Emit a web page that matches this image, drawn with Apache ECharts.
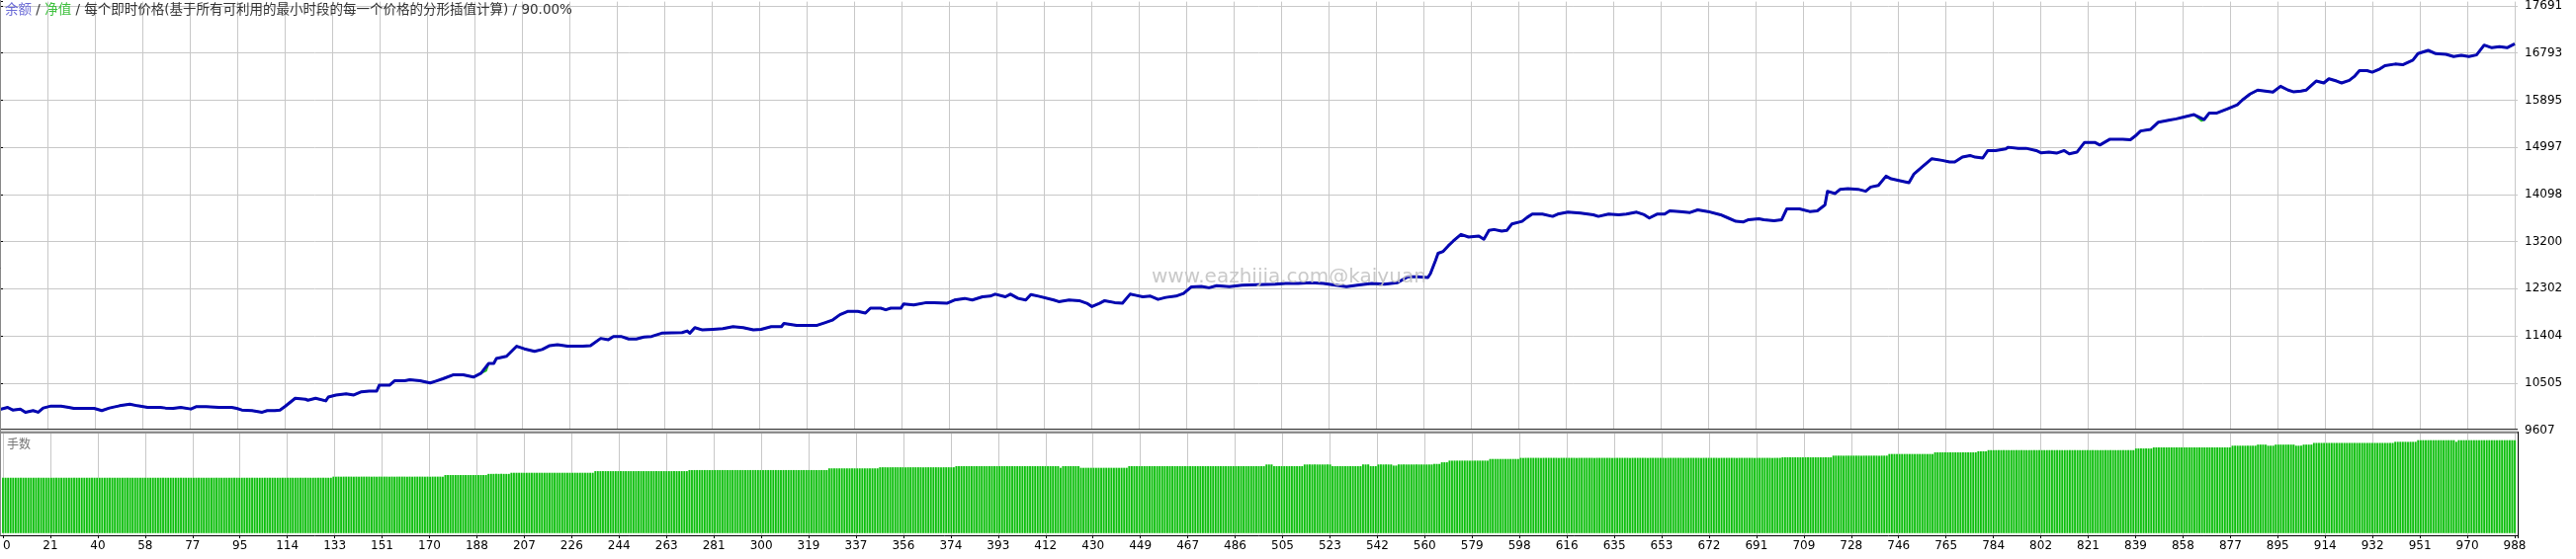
<!DOCTYPE html>
<html><head><meta charset="utf-8">
<script src="https://cdn.jsdelivr.net/npm/echarts@6/dist/echarts.min.js"></script>
<style>html,body{margin:0;padding:0;background:#fff}#c{width:2606px;height:566px}</style>
</head><body><div id="c"></div>
<script>
// ---- data ----
const yTickLabels = ['9607','10505','11404','12302','13200','14098','14997','15895','16793','17691'];
const xTickLabels = ['0','21','40','58','77','95','114','133','151','170','188','207','226','244','263','281','300','319','337','356','374','393','412','430','449','467','486','505','523','542','560','579','598','616','635','653','672','691','709','728','746','765','784','802','821','839','858','877','895','914','932','951','970','988'];

const balanceTrade = [0,3,5,8,10,13,15,17,20,24,27,29,33,37,40,43,47,51,54,58,63,65,68,71,75,77,81,86,91,93,95,99,103,105,108,110,112,116,120,121,124,128,129,132,136,139,142,145,148,149,153,155,159,161,165,169,171,174,178,182,186,189,192,194,195,199,203,206,210,213,216,219,223,229,232,236,239,241,244,247,250,
253,256,260,268,270,271,273,276,280,284,288,292,296,299,303,307,308,313,317,321,324,327,330,333,337,340,342,346,348,350,354,355,359,364,367,372,375,379,382,386,389,391,395,397,400,403,405,408,414,416,420,424,427,429,432,434,438,441,444,446,449,452,455,458,462,465,468,472,475,478,483,488,494,501,
505,510,515,520,524,529,534,539,544,549,553,557,561,562,564,565,567,569,571,574,577,581,583,585,587,590,592,594,598,600,602,606,610,612,616,621,626,628,632,636,639,643,646,648,651,654,656,660,664,667,671,676,679,682,685,687,691,693,697,700,702,707,711,714,717,718,721,723,726,730,733,735,738,741,743,746,750,752,755,
759,763,766,768,771,774,776,779,781,784,788,789,793,796,800,802,805,808,811,813,816,819,823,825,829,834,837,839,841,845,848,852,855,858,862,866,868,871,875,879,881,884,887,890,893,896,899,901,904,906,910,913,915,918,920,923,925,927,930,932,935,937,941,944,948,950,954,957,961,964,967,970,973,976,979,982,985,988];
const balanceValue = [10000,10040,9990,10009,9947,9978,9947,10028,10065,10065,10040,10021,10021,10021,9978,10028,10071,10102,10071,10040,10040,10028,10021,10040,10009,10053,10053,10040,10040,10021,9990,9978,9947,9978,9978,9990,10058,10214,10195,10176,10214,10164,10238,10276,10300,10276,10338,10350,10350,10462,10462,10548,10548,10567,10548,10505,10536,10586,10660,10660,10617,10691,10877,10877,10970,11013,11206,11156,11107,11144,11218,11237,11206,11206,11218,11355,11330,11392,11392,11343,11343,
11380,11392,11454,11466,11497,11454,11559,11516,11528,11541,11578,11559,11516,11528,11578,11578,11640,11603,11603,11603,11652,11702,11807,11869,11869,11838,11931,11931,11900,11931,11931,12012,11993,12037,12037,12024,12086,12117,12086,12148,12160,12198,12148,12198,12117,12086,12191,12160,12086,12055,12086,12074,12024,11962,12024,12074,12037,12024,12198,12179,12148,12160,12098,12136,12160,12210,12334,12346,12320,12360,12340,12370,12380,12390,
12403,12403,12415,12403,12372,12340,12372,12403,12390,12415,12527,12527,12515,12590,12839,12976,13013,13119,13212,13337,13287,13306,13244,13412,13430,13399,13412,13536,13586,13661,13723,13723,13680,13723,13761,13742,13711,13680,13723,13711,13723,13761,13711,13649,13723,13723,13786,13773,13754,13804,13773,13711,13649,13586,13574,13617,13636,13617,13599,13617,13823,13823,13773,13786,13898,14159,14116,14197,14209,14197,14159,14240,14271,14446,14396,14365,14321,14490,14614,
14779,14748,14717,14717,14810,14841,14810,14792,14935,14935,14966,14997,14978,14978,14935,14891,14904,14885,14935,14873,14904,15090,15090,15040,15152,15152,15140,15215,15308,15339,15476,15513,15538,15575,15619,15526,15650,15650,15725,15806,15899,16011,16086,16067,16048,16160,16086,16055,16067,16086,16260,16223,16303,16260,16223,16272,16347,16459,16459,16428,16490,16552,16583,16570,16658,16782,16844,16782,16769,16726,16751,16726,16757,16944,16894,16913,16894,16969];

// equity equals balance except for a few short dips visible as green ticks
const equityDipTrade = [191, 717, 865];
const equityDipValue = [10740, 13870, 15500];

// lots (手数): runs of equal lot size, [first trade of run] -> lot
const lotRunStart = [0,130,174,191,200,233,270,325,345,375,416,417,424,443,497,500,512,523,535,538,541,547,549,563,566,569,585,597,700,720,742,760,777,781,839,846,877,887,891,894,902,905,909,941,950,965,966];
const lotRunValue = [1.00,1.02,1.05,1.07,1.09,1.12,1.14,1.17,1.19,1.21,1.18,1.21,1.18,1.21,1.24,1.21,1.24,1.21,1.24,1.21,1.24,1.22,1.24,1.25,1.28,1.31,1.34,1.36,1.37,1.40,1.43,1.46,1.48,1.50,1.53,1.55,1.58,1.60,1.58,1.60,1.58,1.60,1.63,1.65,1.68,1.65,1.68];
const lastTrade = 988;

// ---- build series data ----
const balanceData = balanceTrade.map((t, i) => [t, balanceValue[i]]);
const equityData = balanceData.concat(equityDipTrade.map((t, i) => [t, equityDipValue[i]])).sort((a, b) => a[0] - b[0]);
const lotsData = [];
for (let t = 0, r = 0; t <= lastTrade; t++) {
  while (r + 1 < lotRunStart.length && lotRunStart[r + 1] <= t) r++;
  lotsData.push([t, lotRunValue[r]]);
}

// ---- layout ----
const W = 2547, topH = 435.5, yStepPx = 47.9, xStepPx = 48;
const yLabMax = topH / yStepPx;
const yMin = +yTickLabels[0];
const yStep = (+yTickLabels[yTickLabels.length - 1] - yMin) / (yTickLabels.length - 1);
const yMax = yMin + yLabMax * yStep;
const xLabMax = W / xStepPx;
const tradesPerStep = (+xTickLabels[xTickLabels.length - 1]) / (xTickLabels.length - 1);
const tMax = xLabMax * tradesPerStep;
const grid = '#c8c8c8';
const FONT = '"DejaVu Sans", "Noto Sans CJK SC", sans-serif';
const LFONT = '13.5px "DejaVu Sans", "Noto Sans CJK SC", sans-serif';

const chart = echarts.init(document.getElementById('c'), null, {renderer: 'canvas', width: 2606, height: 566});
chart.setOption({
  animation: false,
  backgroundColor: '#ffffff',
  grid: [
    {left: 0, top: 0, width: W, height: topH},
    {left: 0, top: 439, width: W, height: 103}
  ],
  xAxis: [
    {gridIndex: 0, type: 'value', min: 0, max: tMax, show: false},
    {gridIndex: 0, type: 'value', min: 0, max: xLabMax, interval: 1,
     axisLine: {show: false}, axisTick: {show: false}, axisLabel: {show: false},
     splitLine: {show: true, showMaxLine: false, lineStyle: {color: grid, width: 1}}},
    {gridIndex: 1, type: 'value', min: 0, max: tMax, show: false},
    {gridIndex: 1, type: 'value', min: 0, max: xLabMax, interval: 1, position: 'bottom',
     axisLine: {show: false},
     axisTick: {show: true, length: 3, lineStyle: {color: '#000'}},
     axisLabel: {show: true, margin: 5, color: '#000', fontSize: 12, fontFamily: FONT,
       alignMinLabel: 'left', hideOverlap: false,
       formatter: v => (Number.isInteger(v) && xTickLabels[v] !== undefined) ? xTickLabels[v] : ''},
     splitLine: {show: true, showMaxLine: false, lineStyle: {color: grid, width: 1}}}
  ],
  yAxis: [
    {gridIndex: 0, type: 'value', min: yMin, max: yMax, show: false},
    {gridIndex: 0, type: 'value', position: 'right', min: 0, max: yLabMax, interval: 1,
     axisLine: {show: true, lineStyle: {color: '#000', width: 1}},
     axisTick: {show: true, length: 3, lineStyle: {color: '#000'}},
     axisLabel: {show: true, margin: 7, color: '#000', fontSize: 12, fontFamily: FONT, hideOverlap: false,
       formatter: v => (Number.isInteger(v) && yTickLabels[v] !== undefined) ? yTickLabels[v] : ''},
     splitLine: {show: true, showMaxLine: false, lineStyle: {color: grid, width: 1}}},
    {gridIndex: 1, type: 'value', min: -0.04, max: 1.80, show: false}
  ],
  series: [
    {type: 'bar', xAxisIndex: 2, yAxisIndex: 2, data: lotsData, barWidth: 2.6, barGap: '-100%',
     itemStyle: {color: '#c2efc2'}, silent: true, z: 2},
    {type: 'bar', xAxisIndex: 2, yAxisIndex: 2, data: lotsData, barWidth: 1.8, barGap: '-100%',
     itemStyle: {color: '#0cbe0c'}, silent: true, z: 3},
    {type: 'line', xAxisIndex: 0, yAxisIndex: 0, data: equityData, symbol: 'none',
     lineStyle: {color: '#22c022', width: 2}, z: 3, silent: true},
    {type: 'line', xAxisIndex: 0, yAxisIndex: 0, data: balanceData, symbol: 'none',
     lineStyle: {color: '#0606b2', width: 3, join: 'round'}, z: 4, silent: true}
  ],
  graphic: [
    {type: 'text', left: 5, top: 4, z: 100, style: {
      text: '{b|余额} / {e|净值} / 每个即时价格(基于所有可利用的最小时段的每一个价格的分形插值计算) / 90.00%',
      fill: '#333333', font: LFONT,
      rich: {b: {fill: '#6a6ad6', font: LFONT}, e: {fill: '#3cc03c', font: LFONT}}}},
    {type: 'text', left: 1165, top: 271, z: 100, style: {
      text: 'www.eazhijia.com@kaiyuan', fill: 'rgba(195,195,195,0.9)', font: '20px ' + FONT}},
    {type: 'text', left: 7, top: 445, z: 100, style: {text: '手数', fill: '#777777', font: '12px ' + FONT}},
    {type: 'rect', z: 90, shape: {x: 0, y: 434.5, width: W, height: 3.5}, style: {fill: '#d6d6d6'}},
    {type: 'line', z: 91, shape: {x1: 0, y1: 434.5, x2: W, y2: 434.5}, style: {stroke: '#333', lineWidth: 1.2}},
    {type: 'line', z: 91, shape: {x1: 0, y1: 438, x2: W, y2: 438}, style: {stroke: '#333', lineWidth: 1.2}},
    {type: 'line', z: 91, shape: {x1: 0, y1: 542.5, x2: W + 0.5, y2: 542.5}, style: {stroke: '#000', lineWidth: 1}},
    {type: 'line', z: 91, shape: {x1: W + 0.5, y1: 437, x2: W + 0.5, y2: 542.5}, style: {stroke: '#000', lineWidth: 1}},
    {type: 'line', z: 91, shape: {x1: 0.5, y1: 0, x2: 0.5, y2: 542.5}, style: {stroke: '#888', lineWidth: 1}}
  ]
});
</script></body></html>
